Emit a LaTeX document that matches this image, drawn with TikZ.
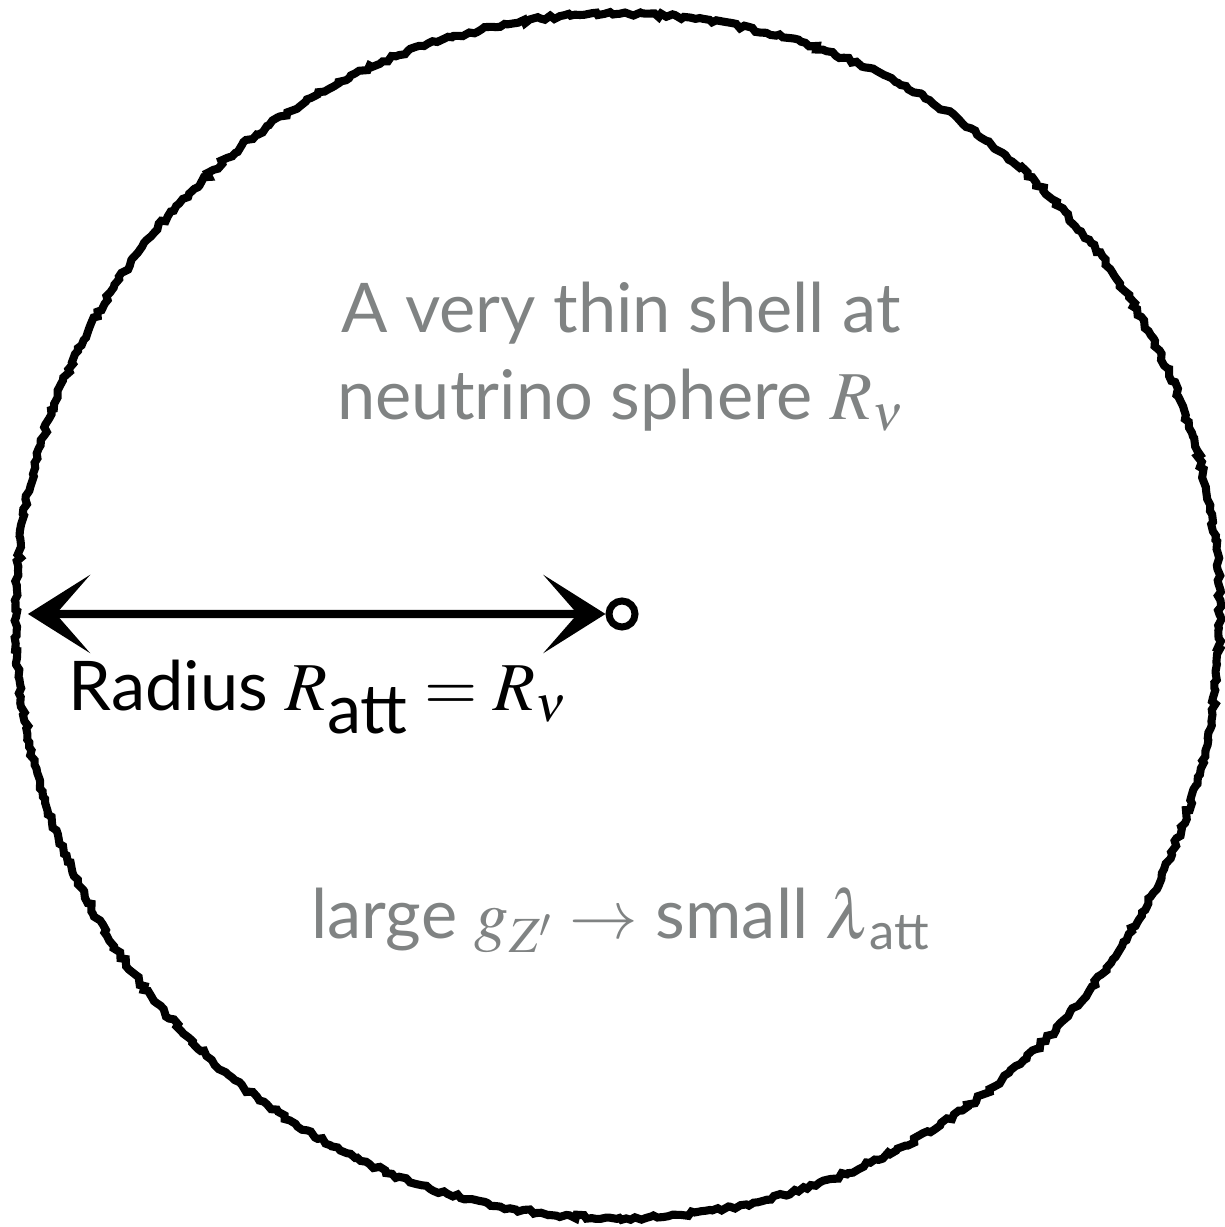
\documentclass[tikz,border=0pt]{standalone}
\usepackage{amsmath}
\usepackage{mathptmx}
\usepackage{fontspec}
\setmainfont{Lato}
\usepackage{tikz}
\usetikzlibrary{arrows.meta, positioning, decorations.pathmorphing}
\definecolor{shellgray}{HTML}{808383}

\begin{document}
\begin{tikzpicture}[
  sketch/.style={decorate, decoration={random steps, segment length=1.3pt, amplitude=0.6pt}},
  label/.style={font=\fontsize{19.5}{24.8}\selectfont, align=center, inner sep=0pt},
  radtip/.tip={Stealth[length=0.62cm, width=0.78cm, inset=0.34cm]},
  every node/.style={font=\fontsize{19.5}{24.8}\selectfont}
]
  \useasboundingbox (0,0) rectangle (12.24,12.27);
  \node[draw, circle, sketch, line width=2.3pt, minimum size=12.04cm, inner sep=0pt] (shell) at (6.18,6.11) {};
  \node[draw, circle, line width=2pt, minimum size=0.26cm, inner sep=0pt] (ctr) at (6.22,6.13) {};
  \coordinate (tipL) at ([xshift=0.16cm, yshift=0.02cm]shell.west);
  \draw[line width=2.3pt, {radtip}-{radtip}] (tipL) -- (ctr.west);
  \node[label, text=shellgray, anchor=base] (thin) at (6.21,8.07)
    {A very thin shell at\\neutrino sphere $R_\nu$};
  \node[label, anchor=base west] (radius) at (0.68,5.16)
    {Radius $R_{\raisebox{0.12em}{att}} = R_\nu$};
  \node[label, text=shellgray, anchor=base] (coupling) at (6.21,2.88)
    {large $g_{Z'} \rightarrow$ small $\lambda_{\,\text{att}}$};
\end{tikzpicture}
\end{document}
